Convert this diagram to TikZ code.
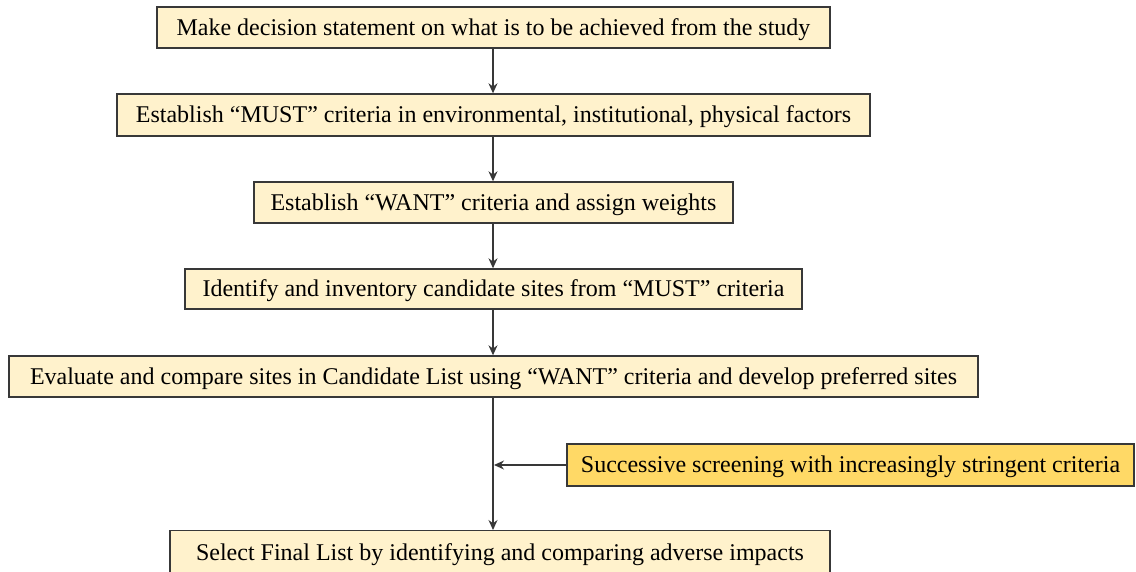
\documentclass[tikz,border=0pt]{standalone}
\usepackage{fontspec}
\setmainfont{Liberation Serif}
\usetikzlibrary{arrows.meta}
\definecolor{cream}{HTML}{FFF2CC}
\definecolor{gold}{HTML}{FFD966}
\definecolor{edge}{HTML}{383838}
\begin{document}
\begin{tikzpicture}[x=1pt,y=-1pt,
  stepbox/.style={draw=edge, line width=1.4pt, fill=cream, inner sep=0pt, text height=20pt, text depth=5pt, font=\fontsize{24}{28}\selectfont, text=black},
  notebox/.style={stepbox, fill=gold},
  arr/.style={draw=edge, line width=1.2pt, -{Stealth[length=10pt,width=9pt]}}]
\useasboundingbox (0,0) rectangle (1136,571);
\clip (0,0) rectangle (1136,571);
\coordinate (ax) at (493,0);
\node[stepbox, minimum width=673pt, minimum height=41pt] (b1) at (493.5,27.5) {Make decision statement on what is to be achieved from the study};
\node[stepbox, minimum width=753pt, minimum height=42pt] (b2) at (493.5,115) {Establish “MUST” criteria in environmental, institutional, physical factors};
\node[stepbox, minimum width=479pt, minimum height=41pt] (b3) at (493.5,202.5) {Establish “WANT” criteria and assign weights};
\node[stepbox, minimum width=617pt, minimum height=40pt] (b4) at (493.5,289) {Identify and inventory candidate sites from “MUST” criteria};
\node[stepbox, minimum width=969pt, minimum height=41pt] (b5) at (493.5,376.5) {Evaluate and compare sites in Candidate List using “WANT” criteria and develop preferred sites};
\node[notebox, minimum width=567pt, minimum height=42pt] (b6) at (850.5,465) {Successive screening with increasingly stringent criteria};
\node[stepbox, minimum width=660pt, minimum height=44pt, anchor=north] (b7) at (500,530) {Select Final List by identifying and comparing adverse impacts};
\draw[arr] (b1.south -| ax) -- (b2.north -| ax);
\draw[arr] (b2.south -| ax) -- (b3.north -| ax);
\draw[arr] (b3.south -| ax) -- (b4.north -| ax);
\draw[arr] (b4.south -| ax) -- (b5.north -| ax);
\draw[arr] (b5.south -| ax) -- (b7.north -| ax);
\draw[arr] (b6.west) -- ([xshift=1pt]b6.west -| ax);
\end{tikzpicture}
\end{document}
